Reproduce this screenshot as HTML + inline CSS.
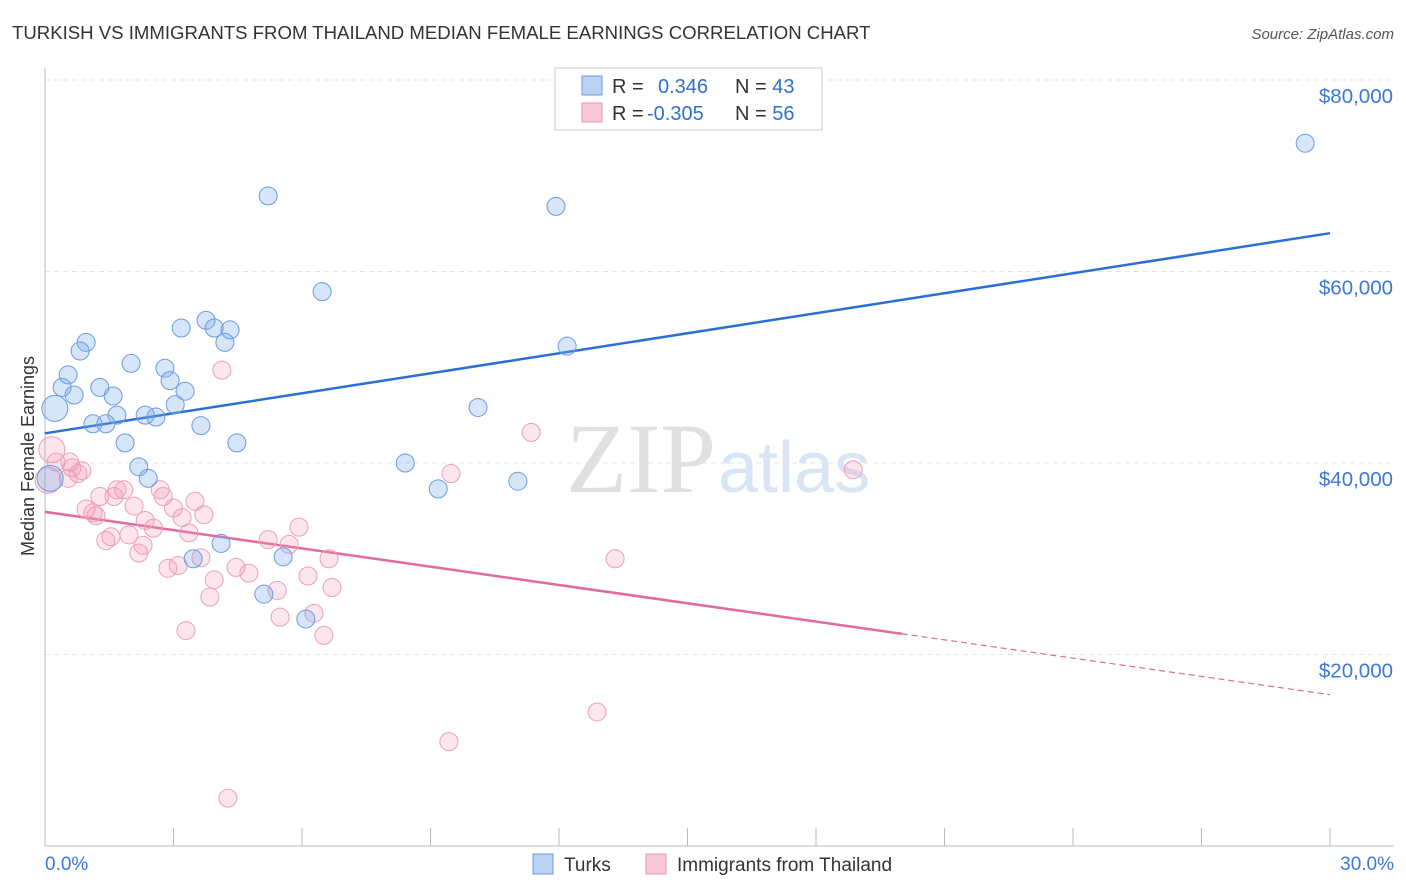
<!DOCTYPE html>
<html><head><meta charset="utf-8"><style>
body{margin:0;background:#fff;font-family:"Liberation Sans",sans-serif}
svg{display:block}
</style></head><body>
<svg id="chart" width="1406" height="892">
<text x="12" y="39" font-size="18.6" fill="#333">TURKISH VS IMMIGRANTS FROM THAILAND MEDIAN FEMALE EARNINGS CORRELATION CHART</text>
<text x="1394" y="39" font-size="15" fill="#555" text-anchor="end" font-style="italic">Source: ZipAtlas.com</text>
<text x="716" y="492" font-size="100" fill="#e0e0e0" text-anchor="end" font-family="Liberation Serif">ZIP</text>
<text x="718" y="492" font-size="72" fill="#d9e5f5">atlas</text>
<g id="grid"></g><g id="axes"></g><g id="trends"></g><g id="points"></g>
<text transform="translate(34,456) rotate(-90)" font-size="18" fill="#333" text-anchor="middle">Median Female Earnings</text>
<g>
<rect x="555" y="68" width="267" height="62" fill="#fff" stroke="#ccc"/>
<rect x="582" y="76" width="20" height="19" fill="#b9d2f3" stroke="#6b9be0"/>
<rect x="582" y="103" width="20" height="19" fill="#f9c9d8" stroke="#e895b3"/>
<text x="612" y="93" font-size="20" fill="#333">R = <tspan fill="#2f6fd0" x="658">0.346</tspan><tspan fill="#333" x="735">N = </tspan><tspan fill="#2f6fd0">43</tspan></text>
<text x="612" y="120" font-size="20" fill="#333">R = <tspan fill="#2f6fd0" x="647">-0.305</tspan><tspan fill="#333" x="735">N = </tspan><tspan fill="#2f6fd0">56</tspan></text>
</g>
<g>
<rect x="533" y="854" width="20" height="20" fill="#b9d2f3" stroke="#6b9be0"/>
<text x="564" y="871" font-size="19" fill="#333">Turks</text>
<rect x="646" y="854" width="20" height="20" fill="#f9c9d8" stroke="#e895b3"/>
<text x="677" y="871" font-size="19" fill="#333">Immigrants from Thailand</text>
</g>
</svg>
<script>
const yTicks=[20000,40000,60000,80000];
const yTickLabels=["$20,000","$40,000","$60,000","$80,000"];
const xTickLabels=["0.0%","30.0%"];
const turksX=[29.42,5.21,11.93,6.47,12.19,3.76,3.18,3.95,4.32,4.20,0.96,0.82,2.01,2.80,2.92,0.54,0.40,1.28,0.68,1.59,3.27,0.23,3.04,10.11,1.68,2.34,2.59,1.12,1.42,3.64,1.87,4.48,8.41,2.19,2.41,9.18,11.04,0.12,4.11,5.56,3.46,5.11,6.09];
const turksY=[73.4,67.9,66.8,57.9,52.2,54.9,54.1,54.1,53.9,52.6,52.6,51.7,50.4,49.9,48.6,49.2,47.9,47.9,47.1,47.0,47.5,45.7,46.1,45.8,45.0,45.0,44.8,44.1,44.1,43.9,42.1,42.1,40.0,39.6,38.4,37.3,38.1,38.4,31.6,30.2,30.0,26.3,23.7];
const thaiX=[4.13,11.35,18.87,9.48,0.16,0.26,0.58,0.63,0.86,0.77,0.54,0.07,1.28,1.61,1.84,1.68,2.69,2.76,3.50,0.96,1.12,1.19,2.08,3.71,2.34,3.0,3.2,2.53,1.96,3.36,5.93,1.42,1.54,2.29,2.19,5.21,5.70,3.64,6.63,13.31,3.11,2.87,4.46,4.76,6.14,3.95,6.70,5.42,3.85,5.49,6.28,3.29,6.51,12.89,9.43,4.27];
const thaiY=[49.7,43.2,39.3,38.9,41.4,40.1,40.1,39.5,39.2,38.9,38.4,38.2,36.5,36.5,37.2,37.2,37.2,36.5,36.0,35.2,34.8,34.5,35.5,34.6,34.0,35.3,34.3,33.2,32.5,32.7,33.3,31.9,32.3,31.4,30.6,32.0,31.5,30.1,30.0,30.0,29.3,29.0,29.1,28.5,28.2,27.8,27.0,26.7,26.0,23.9,24.3,22.5,22.0,14.0,10.9,5.0];
const bigTurks=[21,37], bigThai=[4,11];
const turksTrend=[43.1,64.0];
const thaiTrend=[34.9,15.8];
const thaiSolidEnd=20.0;
const ns="http://www.w3.org/2000/svg";
const xS=v=>45+v/30*1285;
const yS=v=>846-v/20*191.5;
function mk(tag,attrs,parent){const e=document.createElementNS(ns,tag);for(const k in attrs)e.setAttribute(k,attrs[k]);document.getElementById(parent).appendChild(e);return e;}
yTicks.forEach((t,i)=>{
 const l=mk('line',{x1:45,x2:1394,y1:yS(t/1000),y2:yS(t/1000),stroke:'#e4e4e4','stroke-dasharray':'5,4'},'grid');
 
 
 const tx=mk('text',{x:1393,y:yS(t/1000)+23,'font-size':20.5,fill:'#3b78d8','text-anchor':'end'},'grid');
 tx.textContent=yTickLabels[i];
 
 
});
const ax=mk('line',{x1:45,x2:45,y1:68,y2:846,stroke:'#bbb'},'axes');


const bx=mk('line',{x1:45,x2:1394,y1:846,y2:846,stroke:'#bbb'},'axes');


for(let i=1;i<=10;i++){const t=mk('line',{x1:xS(i*3),x2:xS(i*3),y1:828,y2:846,stroke:'#bbb'},'axes');
 
 }
[[0,'start',45],[30,'end',1394]].forEach((d,i)=>{const t=mk('text',{x:d[2],y:870,'font-size':19,fill:'#3b78d8','text-anchor':d[1]},'axes');t.textContent=xTickLabels[i];
 
 });
const tb=mk('line',{x1:xS(0),y1:yS(turksTrend[0]),x2:xS(30),y2:yS(turksTrend[1]),stroke:'#2a6fd6','stroke-width':2.5},'trends');


const ty=v=>thaiTrend[0]+(thaiTrend[1]-thaiTrend[0])*v/30;
const tp=mk('line',{x1:xS(0),y1:yS(ty(0)),x2:xS(thaiSolidEnd),y2:yS(ty(thaiSolidEnd)),stroke:'#e5689a','stroke-width':2.5},'trends');


const td=mk('line',{x1:xS(thaiSolidEnd),y1:yS(ty(thaiSolidEnd)),x2:xS(30),y2:yS(ty(30)),stroke:'#e5689a','stroke-width':1.2,'stroke-dasharray':'6,4'},'trends');


thaiX.forEach((x,i)=>{const c=mk('circle',{cx:xS(x),cy:yS(thaiY[i]),r:bigThai.includes(i)?13:9,fill:'rgba(242,150,182,0.25)',stroke:'#eaa0bb','stroke-width':1},'points');
 
 });
turksX.forEach((x,i)=>{const c=mk('circle',{cx:xS(x),cy:yS(turksY[i]),r:bigTurks.includes(i)?13:9,fill:'rgba(120,170,232,0.3)',stroke:'#6b9be0','stroke-width':1},'points');
 
 });
</script>
</body></html>
